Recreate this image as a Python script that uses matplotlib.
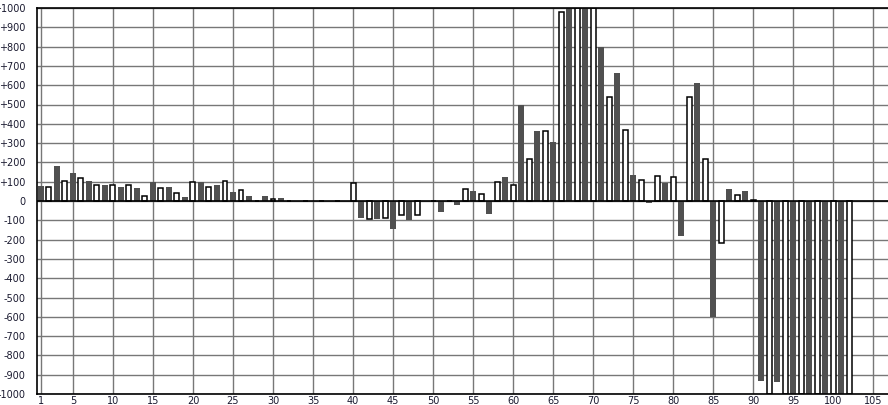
import numpy as np
import matplotlib
matplotlib.use('Agg')
import matplotlib.pyplot as plt

# bar values, index 1..102 (odd = dark, even = white)
vals = [80, 73, 179, 103, 146, 118, 104, 83, 83, 83,
        75, 83, 68, 24, 99, 66, 73, 40, 21, 97,
        96, 71, 85, 103, 47, 56, 26, 0, 26, 9,
        16, 0, 0, 0, 0, 0, 0, 0, 0, 94,
        -87, -92, -92, -90, -146, -75, -99, -75, 0, 0,
        -56, 0, -19, 61, 52, 37, -66, 97, 125, 82,
        498, 216, 363, 362, 306, 979, 1000, 1000, 1000, 1000,
        798, 538, 664, 367, 135, 107, -9, 128, 95, 123,
        -181, 538, 613, 216, -600, -216, 62, 29, 52, 4,
        -932, -1000, -936, -1000, -1000, -1000, -1000, -1000, -1000, -1000,
        -1000, -1000]
xs = np.arange(1, len(vals) + 1)

xticks = [1] + list(range(5, 106, 5))
yticks = list(range(-1000, 1001, 100))
ylabels = ['+%d' % v if v > 0 else str(v) for v in yticks]

fig = plt.figure(figsize=(8.88, 4.05), dpi=100)
ax = fig.add_axes([36.5/888, 11/405, 1 - 36.5/888, 386/405])

vals = np.array(vals)
dark = xs % 2 == 1
ax.bar(xs[dark], vals[dark], width=0.72, color='#505050', linewidth=0, zorder=2)
ax.bar(xs[~dark], vals[~dark], width=0.62, color='white', edgecolor='black',
       linewidth=1.1, zorder=2)
ax.axhline(0, color='black', lw=1.2, zorder=3)

ax.set_xlim(0.45, 106.84)
ax.set_ylim(-1000, 1000)
ax.set_xticks(xticks)
ax.set_yticks(yticks)
ax.set_yticklabels(ylabels)
ax.grid(True, color='#777777', lw=1, zorder=0)
ax.set_axisbelow(True)
ax.tick_params(length=0, labelsize=7, colors='#1a1a30')
ax.tick_params(axis='y', pad=8)
ax.tick_params(axis='x', pad=1.5)
for s in ['left', 'bottom', 'top']:
    ax.spines[s].set_color('black')
    ax.spines[s].set_linewidth(1.2)
ax.spines['right'].set_visible(False)

fig.savefig('out.png', dpi=100)
